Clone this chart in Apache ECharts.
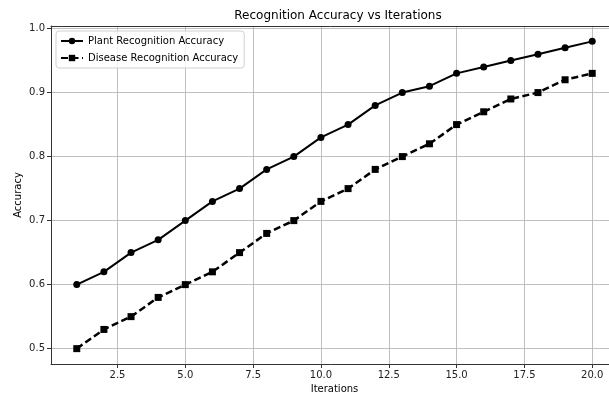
<!DOCTYPE html>
<html>
<head>
<meta charset="utf-8">
<script src="https://cdn.jsdelivr.net/npm/echarts@6/dist/echarts.min.js"></script>
<style>
  html, body { margin: 0; padding: 0; background: #fff; }
  #chart { width: 609px; height: 394px; }
</style>
</head>
<body>
<div id="chart"></div>
<script>
// data
var iterations = [1,2,3,4,5,6,7,8,9,10,11,12,13,14,15,16,17,18,19,20];
var plantAcc = [0.60,0.62,0.65,0.67,0.70,0.73,0.75,0.78,0.80,0.83,0.85,0.88,0.90,0.91,0.93,0.94,0.95,0.96,0.97,0.98];
var diseaseAcc = [0.50,0.53,0.55,0.58,0.60,0.62,0.65,0.68,0.70,0.73,0.75,0.78,0.80,0.82,0.85,0.87,0.89,0.90,0.92,0.93];
var xTicks = [2.5,5.0,7.5,10.0,12.5,15.0,17.5,20.0];
var yTicks = [0.5,0.6,0.7,0.8,0.9,1.0];

function pairs(xs, ys) {
  return xs.map(function (x, i) { return [x, ys[i]]; });
}

var font = 'DejaVu Sans';
var chart = echarts.init(document.getElementById('chart'));

chart.setOption({
  animation: false,
  textStyle: { fontFamily: font },
  title: {
    text: 'Recognition Accuracy vs Iterations',
    left: 333, top: 5, textAlign: 'center',
    textStyle: { fontFamily: font, fontSize: 12, fontWeight: 'normal', color: '#000' }
  },
  legend: {
    left: 56, top: 31, orient: 'vertical',
    itemWidth: 22, itemHeight: 8, itemGap: 7,
    padding: [5, 6, 5, 4],
    backgroundColor: 'rgba(255,255,255,0.8)',
    borderColor: '#d0d0d0', borderWidth: 1, borderRadius: 3,
    textStyle: { fontFamily: font, fontSize: 10, color: '#000' },
    data: ['Plant Recognition Accuracy', 'Disease Recognition Accuracy']
  },
  // y axis title placed by hand, the axis name kept drifting left
  graphic: [{
    type: 'text', x: 18, y: 195, rotation: Math.PI / 2,
    style: { text: 'Accuracy', fontFamily: font, fontSize: 10, fill: '#000',
      align: 'center', verticalAlign: 'middle' }
  }],
  grid: { left: 51, width: 567, top: 26, height: 338, containLabel: false, outerBoundsMode: 'none' },
  xAxis: [{
    type: 'value', min: 0.05, max: 20.95,
    name: 'Iterations', nameLocation: 'middle', nameGap: 20,
    nameTextStyle: { fontFamily: font, fontSize: 10, color: '#000' },
    axisLine: { show: true, onZero: false, lineStyle: { color: '#333', width: 1 } },
    axisTick: { show: true, length: 4, customValues: xTicks, lineStyle: { color: '#333' } },
    axisLabel: { customValues: xTicks, fontFamily: font, fontSize: 10, color: '#222', margin: 6,
      formatter: function (v) { return v.toFixed(1); } },
    splitLine: { show: false }
  }, {
    type: 'value', position: 'top', min: 0.05, max: 20.95,
    axisLine: { show: true, onZero: false, lineStyle: { color: '#333', width: 1 } },
    axisTick: { show: false }, axisLabel: { show: false }, splitLine: { show: false }
  }],
  yAxis: {
    type: 'value', min: 0.476, max: 1.004,
    axisLine: { show: true, lineStyle: { color: '#333', width: 1 } },
    axisTick: { show: true, length: 4, customValues: yTicks, lineStyle: { color: '#333' } },
    axisLabel: { customValues: yTicks, fontFamily: font, fontSize: 10, color: '#222', margin: 6,
      formatter: function (v) { return v.toFixed(1); } },
    splitLine: { show: false }
  },
  series: [
    {
      name: 'Plant Recognition Accuracy', type: 'line',
      data: pairs(iterations, plantAcc),
      symbol: 'circle', symbolSize: 7,
      itemStyle: { color: '#000' },
      lineStyle: { color: '#000', width: 2 },
      markLine: {
        silent: true, symbol: 'none', label: { show: false }, z: 0,
        lineStyle: { color: '#b0b0b0', width: 0.8, type: 'solid' },
        data: xTicks.map(function (v) { return { xAxis: v }; })
          .concat(yTicks.map(function (v) { return { yAxis: v }; }))
      },
      z: 3
    },
    {
      name: 'Disease Recognition Accuracy', type: 'line',
      data: pairs(iterations, diseaseAcc),
      symbol: 'rect', symbolSize: 7,
      itemStyle: { color: '#000' },
      lineStyle: { color: '#000', width: 2.5, type: [7, 3.5] },
      z: 2
    }
  ]
});
</script>
</body>
</html>
